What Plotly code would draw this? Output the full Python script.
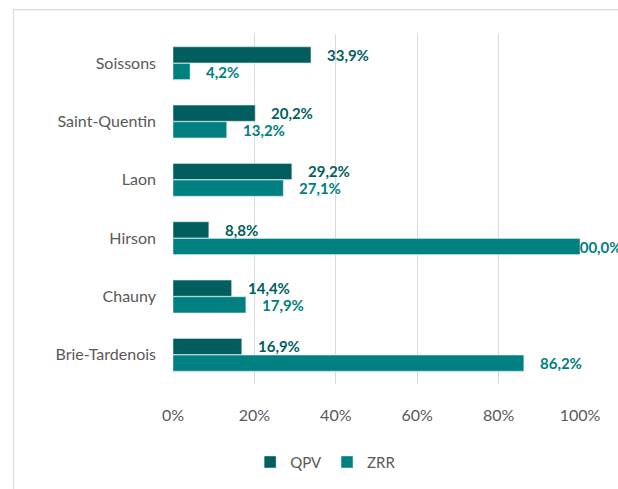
import plotly.graph_objects as go

categories = ["Soissons", "Saint-Quentin", "Laon", "Hirson", "Chauny", "Brie-Tardenois"]
qpv = [33.9, 20.2, 29.2, 8.8, 14.4, 16.9]
zrr = [4.2, 13.2, 27.1, 100.0, 17.9, 86.2]
tick_vals = [0, 20, 40, 60, 80, 100]
tick_text = ["0%", "20%", "40%", "60%", "80%", "100%"]

c_qpv = "#005F5E"
c_zrr = "#008080"
font = "Lato"

W, H = 618, 489
L, R, T, B = 173, 38, 34, 104
pw, ph = W - L - R, H - T - B

fig = go.Figure()
fig.add_trace(go.Bar(y=categories, x=qpv, name="QPV", orientation="h",
                     marker=dict(color=c_qpv), hoverinfo="skip"))
fig.add_trace(go.Bar(y=categories, x=zrr, name="ZRR", orientation="h",
                     marker=dict(color=c_zrr), hoverinfo="skip"))

def fmt(v):
    return f"{v:.1f}".replace(".", ",") + "%"

annotations = []
for vals, col, ysh in [(qpv, c_qpv, 8.5), (zrr, c_zrr, -8.5)]:
    for cat, v in zip(categories, vals):
        annotations.append(dict(
            x=v, y=cat, xref="x", yref="y", text="<b>" + fmt(v) + "</b>",
            showarrow=False, xanchor="left", yanchor="middle",
            xshift=14 if v < 95 else -11, yshift=ysh,
            font=dict(family=font, size=15, color=col)))

fig.update_layout(
    width=W, height=H,
    margin=dict(l=L, r=R, t=T, b=B),
    paper_bgcolor="white", plot_bgcolor="white",
    barmode="group", bargap=0.43, bargroupgap=0.03,
    font=dict(family=font, size=16, color="#595959"),
    showlegend=True,
    legend=dict(orientation="h", x=0.375, xanchor="center", y=-0.22, yanchor="middle",
                font=dict(size=15, color="#595959"), itemwidth=30,
                traceorder="normal"),
    annotations=annotations,
    shapes=[dict(type="rect", xref="paper", yref="paper",
                 x0=(13.5 - L) / pw, x1=1.3, y0=-0.5, y1=(T + ph - 9.5) / ph,
                 line=dict(color="#D9D9D9", width=1.2), layer="below")],
)
fig.update_xaxes(range=[0, 100], tickvals=tick_vals, ticktext=tick_text,
                 showgrid=True, gridcolor="#D9D9D9", gridwidth=1.2,
                 zeroline=False, showline=False, ticks="",
                 ticklabelstandoff=20, tickfont=dict(size=16, color="#595959"))
fig.update_yaxes(autorange="reversed", showgrid=False, showline=False, ticks="",
                 ticklabelstandoff=16, tickfont=dict(size=16, color="#595959"))

fig.write_html("out.html", config={"displayModeBar": False},
               post_script="document.body.style.margin='0';document.body.style.overflow='hidden';")
